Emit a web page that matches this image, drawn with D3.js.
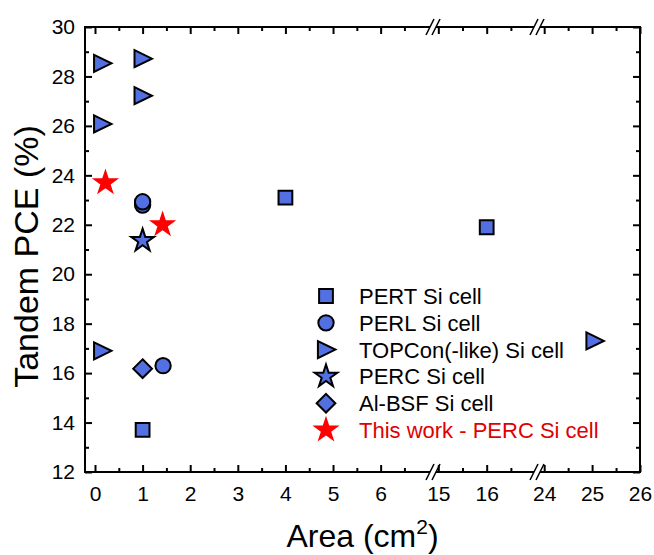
<!DOCTYPE html>
<html>
<head>
<meta charset="utf-8">
<script src="https://cdn.jsdelivr.net/npm/d3@7"></script>
<style>
  body { margin: 0; background: #fff; }
  text { font-family: Arial, "Liberation Sans", sans-serif; }
</style>
</head>
<body>
<svg id="chart" width="654" height="555"></svg>
<script>
// data: [area cm2, tandem PCE %]
const pert = [[4, 23.1], [16, 21.9], [1, 13.7]];
const perl = [[1, 22.8], [1, 22.93], [1.43, 16.3]];
const topcon = [[0.15, 28.53], [1, 28.72], [1, 27.22], [0.15, 26.08], [0.15, 16.9], [25.05, 17.3]];
const percBlue = [[1, 21.36]];
const alBsf = [[1, 16.18]];
const thisWork = [[0.22, 23.7], [1.42, 22.0]];

const legendNames = ["PERT Si cell", "PERL Si cell", "TOPCon(-like) Si cell", "PERC Si cell", "Al-BSF Si cell", "This work - PERC Si cell"];

// broken x axis: three pieces
const xPieces = [[-0.21, 7.1], [14.89, 17.04], [23.85, 26]];
const xMajor = [0, 1, 2, 3, 4, 5, 6, 15, 16, 24, 25, 26];
const xMinor = [0.5, 1.5, 2.5, 3.5, 4.5, 5.5, 6.5, 15.5, 16.5, 24.5, 25.5];
const yMajor = [12, 14, 16, 18, 20, 22, 24, 26, 28, 30];
const yMinor = [13, 15, 17, 19, 21, 23, 25, 27, 29];

const blue = "#5270e2";
const margin = { top: 27, left: 85, right: 14, bottom: 83 };
const W = 654, H = 555;
const pL = margin.left, pR = W - margin.right;
const pT = margin.top, pB = H - margin.bottom;

const b1 = pL + 348, b2 = b1 + 104;
const x = d3.scaleLinear()
  .domain(xPieces.flat())
  .range([pL, b1, b1, b2, b2, pR]);
const y = d3.scaleLinear().domain([12, 30]).range([pB, pT]);

const svg = d3.select("#chart");

// ---- frame ----
const frame = svg.append("g").attr("stroke", "#000").attr("stroke-width", 2).attr("fill", "none");
frame.append("line").attr("x1", pL).attr("x2", pL).attr("y1", pT - 1).attr("y2", pB + 1);
frame.append("line").attr("x1", pR).attr("x2", pR).attr("y1", pT - 1).attr("y2", pB + 1);
const gap = 3;
xPieces.forEach((p, i) => {
  const x0 = i === 0 ? pL : x(p[0]) + gap;
  const x1 = i === xPieces.length - 1 ? pR : x(p[1]) - gap;
  [pT, pB].forEach(yy => {
    frame.append("line").attr("x1", x0).attr("x2", x1).attr("y1", yy).attr("y2", yy);
  });
});
// break marks
[b1, b2].forEach(bx => {
  [pT, pB].forEach(yy => {
    [-gap, gap].forEach(dx => {
      frame.append("line")
        .attr("stroke-width", 1.6)
        .attr("x1", bx + dx - 4).attr("y1", yy + 8)
        .attr("x2", bx + dx + 4).attr("y2", yy - 8);
    });
  });
});

// ---- axes (ticks inward) ----
function styleAxis(g) {
  g.select(".domain").remove();
  g.selectAll(".tick line").attr("stroke", "#000").attr("stroke-width", 2);
  g.selectAll(".tick text").attr("fill", "#000").attr("font-size", 21);
}

svg.append("g").attr("transform", `translate(0,${pB})`)
  .call(d3.axisBottom(x).tickValues(xMajor).tickSize(-7).tickPadding(14).tickFormat(d3.format("d")))
  .call(styleAxis);
svg.append("g").attr("transform", `translate(0,${pB})`)
  .call(d3.axisBottom(x).tickValues(xMinor).tickSize(-4).tickFormat(""))
  .call(styleAxis);
svg.append("g").attr("transform", `translate(0,${pT})`)
  .call(d3.axisTop(x).tickValues(xMajor).tickSize(-7).tickFormat(""))
  .call(styleAxis);
svg.append("g").attr("transform", `translate(0,${pT})`)
  .call(d3.axisTop(x).tickValues(xMinor).tickSize(-4).tickFormat(""))
  .call(styleAxis);

svg.append("g").attr("transform", `translate(${pL},0)`)
  .call(d3.axisLeft(y).tickValues(yMajor).tickSize(-7).tickPadding(10))
  .call(styleAxis);
svg.append("g").attr("transform", `translate(${pL},0)`)
  .call(d3.axisLeft(y).tickValues(yMinor).tickSize(-4).tickFormat(""))
  .call(styleAxis);
svg.append("g").attr("transform", `translate(${pR},0)`)
  .call(d3.axisRight(y).tickValues(yMajor).tickSize(-7).tickFormat(""))
  .call(styleAxis);
svg.append("g").attr("transform", `translate(${pR},0)`)
  .call(d3.axisRight(y).tickValues(yMinor).tickSize(-4).tickFormat(""))
  .call(styleAxis);

// ---- titles ----
const xt = svg.append("text")
  .attr("x", (pL + pR) / 2).attr("y", 547)
  .attr("text-anchor", "middle").attr("font-size", 32).attr("fill", "#000");
xt.append("tspan").text("Area (cm");
xt.append("tspan").attr("font-size", 21).attr("dy", -13).text("2");
xt.append("tspan").attr("dy", 13).text(")");

svg.append("text")
  .attr("transform", `translate(38,${(pT + pB) / 2 + 7}) rotate(-90)`)
  .attr("text-anchor", "middle").attr("font-size", 34).attr("fill", "#000")
  .text("Tandem PCE (%)");

// ---- symbols ----
const triRight = {
  draw(ctx, size) {
    const r = Math.sqrt(size) / 2;
    ctx.moveTo(-r * 0.95, -r);
    ctx.lineTo(r * 1.1, 0);
    ctx.lineTo(-r * 0.95, r);
    ctx.closePath();
  }
};
const diamond = {
  draw(ctx, size) {
    const r = Math.sqrt(size) / 2 * Math.SQRT2;
    ctx.moveTo(0, -r);
    ctx.lineTo(r, 0);
    ctx.lineTo(0, r);
    ctx.lineTo(-r, 0);
    ctx.closePath();
  }
};

const series = [
  { data: pert, type: d3.symbolSquare, size: 190, fill: blue, stroke: "#000" },
  { data: perl, type: d3.symbolCircle, size: 185, fill: blue, stroke: "#000" },
  { data: topcon, type: triRight, size: 290, fill: blue, stroke: "#000" },
  { data: percBlue, type: d3.symbolStar, size: 160, fill: blue, stroke: "#000" },
  { data: alBsf, type: diamond, size: 175, fill: blue, stroke: "#000" },
  { data: thisWork, type: d3.symbolStar, size: 230, fill: "#ff0000", stroke: "none" }
];

series.forEach(s => {
  svg.append("g").selectAll("path")
    .data(s.data)
    .join("path")
    .attr("transform", d => `translate(${x(d[0])},${y(d[1])})`)
    .attr("d", d3.symbol(s.type, s.size))
    .attr("fill", s.fill)
    .attr("stroke", s.stroke)
    .attr("stroke-width", 2);
});

// ---- legend ----
const legend = svg.append("g").attr("transform", "translate(326,296)");
const rows = legend.selectAll("g")
  .data(series)
  .join("g")
  .attr("transform", (d, i) => `translate(0,${i * 26.8})`);
rows.append("path")
  .attr("d", d => d3.symbol(d.type, d.size)())
  .attr("fill", d => d.fill)
  .attr("stroke", d => d.stroke)
  .attr("stroke-width", 2);
rows.append("text")
  .attr("x", 33).attr("dy", "0.36em")
  .attr("font-size", 22)
  .attr("fill", (d, i) => i === series.length - 1 ? "#e00000" : "#000")
  .text((d, i) => legendNames[i]);
</script>
</body>
</html>
